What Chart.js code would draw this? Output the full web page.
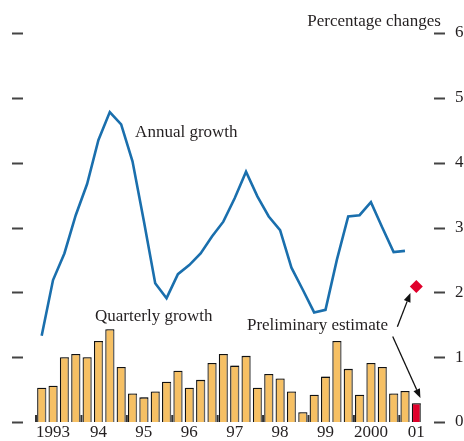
<!DOCTYPE html>
<html>
<head>
<meta charset="utf-8">
<script src="https://cdn.jsdelivr.net/npm/chart.js@4"></script>
<style>
  html, body { margin: 0; padding: 0; background: #fff; }
  #wrap { width: 464px; height: 441px; position: relative; }
</style>
</head>
<body>
<div id="wrap"><canvas id="chart"></canvas></div>
<script>
// quarterly data, 1993 Q1 - 2001 Q2
const years = ['1993', '1994', '1995', '1996', '1997', '1998', '1999', '2000', '2001'];
const yearLabels = ['1993', '94', '95', '96', '97', '98', '99', '2000', '01'];
const quarterlyGrowth = [0.53, 0.56, 1.00, 1.05, 1.00, 1.25, 1.43, 0.85, 0.44, 0.38,
                         0.47, 0.62, 0.79, 0.53, 0.65, 0.91, 1.05, 0.87, 1.02, 0.53,
                         0.74, 0.67, 0.47, 0.15, 0.42, 0.70, 1.25, 0.82, 0.42, 0.91,
                         0.85, 0.44, 0.48, 0.29];
const annualGrowth = [1.33, 2.19, 2.60, 3.19, 3.67, 4.35, 4.78, 4.59, 4.02, 3.10,
                      2.14, 1.91, 2.28, 2.42, 2.60, 2.86, 3.09, 3.45, 3.86, 3.48,
                      3.17, 2.96, 2.38, 2.04, 1.69, 1.73, 2.50, 3.17, 3.19, 3.39,
                      3.00, 2.62, 2.64, null];
const estimate = [null, null, null, null, null, null, null, null, null, null,
                  null, null, null, null, null, null, null, null, null, null,
                  null, null, null, null, null, null, null, null, null, null,
                  null, null, null, 2.09];
const yTicks = [0, 1, 2, 3, 4, 5, 6];

// labels 'yyyy Qn'
const quarters = [];
years.forEach(y => ['Q1', 'Q2', 'Q3', 'Q4'].forEach(q => quarters.push(y + ' ' + q)));
quarters.length = quarterlyGrowth.length;

const FONT = '"Liberation Serif", "Times New Roman", serif';
const INK = '#231f20';
const BAR = '#f6c064';
const RED = '#e0002b';
const BLUE = '#1a6fad';

// annotations in data space (category index, value)
const notes = [
  { text: 'Percentage changes', i: 23.39, v: 6.11 },
  { text: 'Annual growth', i: 8.23, v: 4.39 },
  { text: 'Quarterly growth', i: 4.70, v: 1.56 },
  { text: 'Preliminary estimate', i: 18.08, v: 1.42 }
];
const arrows = [
  { from: [31.33, 1.47], to: [32.48, 1.99] },
  { from: [30.92, 1.32], to: [33.36, 0.37] }
];

const decor = {
  id: 'decor',
  beforeDatasetsDraw(chart) {
    const ctx = chart.ctx, xs = chart.scales.x, ys = chart.scales.y;
    const y0 = ys.getPixelForValue(0);
    ctx.save();
    ctx.strokeStyle = '#333';
    ctx.lineWidth = 2;
    for (let k = 0; k < years.length; k++) {
      const x = xs.getPixelForValue(k * 4 - 0.5);
      ctx.beginPath();
      ctx.moveTo(x, y0);
      ctx.lineTo(x, y0 - 7);
      ctx.stroke();
    }
    ctx.restore();
  },
  beforeDatasetDraw(chart, args) {
    if (args.index !== 0) return;
    const ctx = chart.ctx;
    ctx.save();
    ctx.shadowColor = 'rgba(120,120,120,0.8)';
    ctx.shadowOffsetX = 1.5;
    ctx.shadowOffsetY = 0;
    ctx.shadowBlur = 0;
  },
  afterDatasetDraw(chart, args) {
    if (args.index === 0) chart.ctx.restore();
  },
  afterDraw(chart) {
    const ctx = chart.ctx, xs = chart.scales.x, ys = chart.scales.y;
    const area = chart.chartArea;
    ctx.save();
    // tick dashes on both sides
    ctx.strokeStyle = '#444';
    ctx.lineWidth = 2;
    yTicks.forEach(t => {
      const y = Math.round(ys.getPixelForValue(t)) + 0.5;
      ctx.beginPath();
      ctx.moveTo(area.left - 24, y);
      ctx.lineTo(area.left - 13, y);
      ctx.moveTo(area.right + 12, y);
      ctx.lineTo(area.right + 23, y);
      ctx.stroke();
    });
    // texts
    ctx.fillStyle = INK;
    ctx.font = '17px ' + FONT;
    ctx.textAlign = 'left';
    ctx.textBaseline = 'alphabetic';
    notes.forEach(n => {
      ctx.fillText(n.text, xs.getPixelForValue(n.i), ys.getPixelForValue(n.v));
    });
    // arrows
    ctx.strokeStyle = '#111';
    ctx.fillStyle = '#111';
    ctx.lineWidth = 1.3;
    arrows.forEach(a => {
      const x1 = xs.getPixelForValue(a.from[0]), y1 = ys.getPixelForValue(a.from[1]);
      const x2 = xs.getPixelForValue(a.to[0]), y2 = ys.getPixelForValue(a.to[1]);
      const ang = Math.atan2(y2 - y1, x2 - x1);
      const len = 9, half = 3.5;
      const bx = x2 - len * Math.cos(ang), by = y2 - len * Math.sin(ang);
      ctx.beginPath();
      ctx.moveTo(x1, y1);
      ctx.lineTo(bx, by);
      ctx.stroke();
      ctx.beginPath();
      ctx.moveTo(x2, y2);
      ctx.lineTo(bx + half * Math.sin(ang), by - half * Math.cos(ang));
      ctx.lineTo(bx - half * Math.sin(ang), by + half * Math.cos(ang));
      ctx.closePath();
      ctx.fill();
    });
    ctx.restore();
  }
};

new Chart(document.getElementById('chart'), {
  type: 'bar',
  data: {
    labels: quarters,
    datasets: [
      {
        type: 'bar',
        label: 'Quarterly growth',
        data: quarterlyGrowth,
        backgroundColor: quarterlyGrowth.map((v, i) => i === quarterlyGrowth.length - 1 ? RED : BAR),
        borderColor: '#111',
        borderWidth: 1.3,
        barPercentage: 0.8,
        categoryPercentage: 1,
        order: 3
      },
      {
        type: 'line',
        label: 'Annual growth',
        data: annualGrowth,
        borderColor: BLUE,
        borderWidth: 2.6,
        pointRadius: 0,
        tension: 0,
        fill: false,
        order: 2
      },
      {
        type: 'line',
        label: 'Preliminary estimate',
        data: estimate,
        showLine: false,
        pointStyle: 'rectRot',
        pointRadius: 6.5,
        pointBackgroundColor: RED,
        pointBorderWidth: 0,
        order: 1
      }
    ]
  },
  options: {
    responsive: true,
    maintainAspectRatio: false,
    animation: false,
    layout: { padding: { left: 36, top: 33, right: 0, bottom: 0 } },
    plugins: {
      legend: { display: false },
      tooltip: { enabled: false }
    },
    scales: {
      x: {
        grid: { display: false, drawTicks: false },
        border: { display: false },
        afterFit: s => { s.height = 19; s.paddingLeft = 0; s.paddingRight = 0; },
        ticks: {
          autoSkip: false,
          maxRotation: 0,
          padding: 2,
          color: INK,
          font: { family: FONT, size: 17, lineHeight: 1 },
          callback: (val, idx) => idx % 4 === 1 ? yearLabels[(idx - 1) / 4] : ''
        }
      },
      y: {
        position: 'right',
        min: 0,
        max: 6,
        grid: { display: false, drawTicks: false },
        border: { display: false },
        afterBuildTicks: scale => { scale.ticks = yTicks.map(v => ({ value: v })); },
        afterFit: s => { s.width = 42; s.paddingTop = 0; s.paddingBottom = 0; },
        ticks: {
          padding: 33,
          color: INK,
          font: { family: FONT, size: 17 }
        }
      }
    }
  },
  plugins: [decor]
});
</script>
</body>
</html>
